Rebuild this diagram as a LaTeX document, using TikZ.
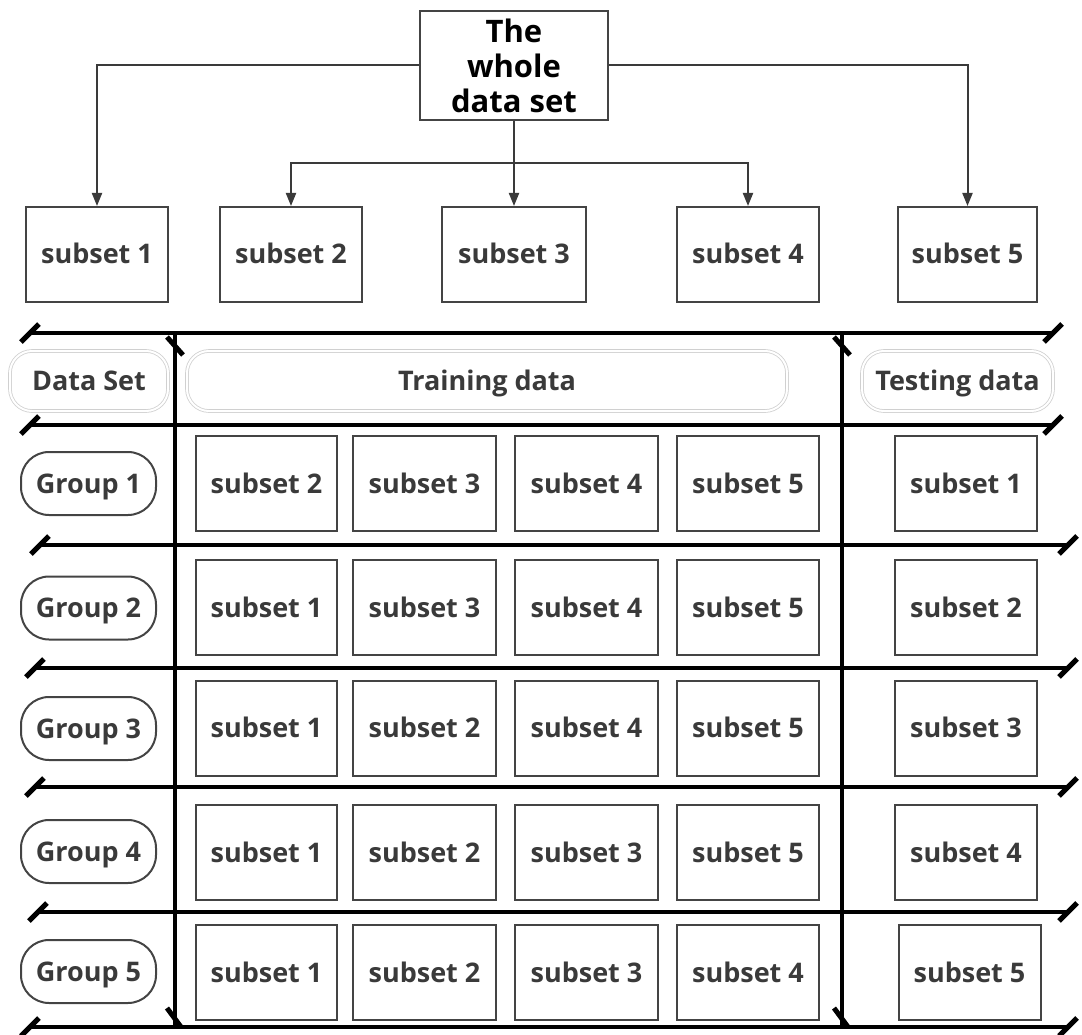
\documentclass[tikz,border=0pt]{standalone}
\usepackage{fontspec}
\setmainfont{Open Sans}
\usetikzlibrary{arrows.meta}
\definecolor{ink}{HTML}{3A3A3A}
\definecolor{edge}{HTML}{444444}
\definecolor{soft}{HTML}{D0D0D0}
\begin{document}
\begin{tikzpicture}[x=1pt,y=-1pt,
  label font/.style={font=\bfseries\fontsize{27}{30}\selectfont, text height=23pt, text depth=4pt},
  cell/.style={draw=edge, line width=2pt, minimum width=142, minimum height=95,
    inner sep=0pt, text=ink, label font},
  headbox/.style={draw=soft, double=white, double distance=2pt, line width=0.8pt,
    rounded corners=22pt, minimum height=60, inner sep=0pt, text=ink, label font},
  groupbox/.style={draw=edge, line width=2pt, rounded corners=28pt,
    minimum width=135, minimum height=63, inner sep=0pt, text=ink, label font},
  conn/.style={draw=ink, line width=2pt, -{Triangle[length=13pt,width=10pt]}},
  rule/.style={line width=4.5pt, black},
  tickline/.style={line width=5pt, black}]
\useasboundingbox (0,0) rectangle (1082,1035);

% source box
\node[draw=edge, line width=2pt, minimum width=188, minimum height=109, inner sep=0pt,
  align=center, font=\bfseries\fontsize{31}{35}\selectfont] (whole) at (514,65.5)
  {The\\whole\\data set};

% first split into five subsets
\node[cell] (s1) at (97,254.5) {subset 1};
\node[cell] (s2) at (291,254.5) {subset 2};
\node[cell, minimum width=144] (s3) at (514,254.5) {subset 3};
\node[cell] (s4) at (748,254.5) {subset 4};
\node[cell, minimum width=139] (s5) at (967.5,254.5) {subset 5};

\coordinate (split) at (514,163);
\draw[conn] (whole.west) -| (s1.north);
\draw[conn] (whole.east) -| (s5.north);
\draw[draw=ink, line width=2pt] (whole.south) -- (split);
\draw[conn] (split) -| (s2.north);
\draw[conn] (split) -| (s4.north);
\draw[conn] (split) -- (s3.north);

% table rules
\foreach \n/\y/\a/\b in {1/333/30/1053, 2/425/30/1053, 3/545/40/1068, 4/668/35/1068,
                         5/787/35/1068, 6/912/38/1068, 7/1027/30/1068} {
  \coordinate (h\n a) at (\a,\y);
  \coordinate (h\n b) at (\b,\y);
  \draw[rule] (h\n a) -- (h\n b);
  \draw[tickline, shift={(h\n a)}] (-9,9) -- (9,-9);
  \draw[tickline, shift={(h\n b)}] (-9,9) -- (9,-9);
}
\foreach \n/\x in {1/175, 2/842} {
  \coordinate (v\n a) at (\x,333);
  \coordinate (v\n b) at (\x,1027);
  \draw[rule] (v\n a) -- (v\n b);
  \draw[tickline, shift={(v\n a)}] (-8,4) -- (8,22);
  \draw[tickline, shift={(v\n b)}] (-8,-19) -- (6,0);
}

% header row
\node[headbox, minimum width=158] (hdata) at (89,381) {Data Set};
\node[headbox, minimum width=600] (htrain) at (487,381) {Training data};
\node[headbox, minimum width=191] (htest) at (957.5,381) {Testing data};

% groups
\foreach \g/\y in {1/483.5, 2/608, 3/728.5, 4/851.5, 5/971.5}
  \node[groupbox] (g\g) at (88.5,\y) {Group \g};

% training and testing subsets per group
\foreach \r/\y/\a/\b/\c/\d/\t/\tx in {
    1/483.5/2/3/4/5/1/966,
    2/607.5/1/3/4/5/2/966,
    3/728/1/2/4/5/3/966,
    4/852.5/1/2/3/5/4/966,
    5/972.5/1/2/3/4/5/969.5} {
  \node[cell, minimum width=141] (r\r c1) at (266.5,\y) {subset \a};
  \node[cell, minimum width=143] (r\r c2) at (424.5,\y) {subset \b};
  \node[cell, minimum width=143] (r\r c3) at (586.5,\y) {subset \c};
  \node[cell, minimum width=142] (r\r c4) at (748,\y) {subset \d};
  \node[cell, minimum width=142] (r\r t) at (\tx,\y) {subset \t};
}
\end{tikzpicture}
\end{document}
